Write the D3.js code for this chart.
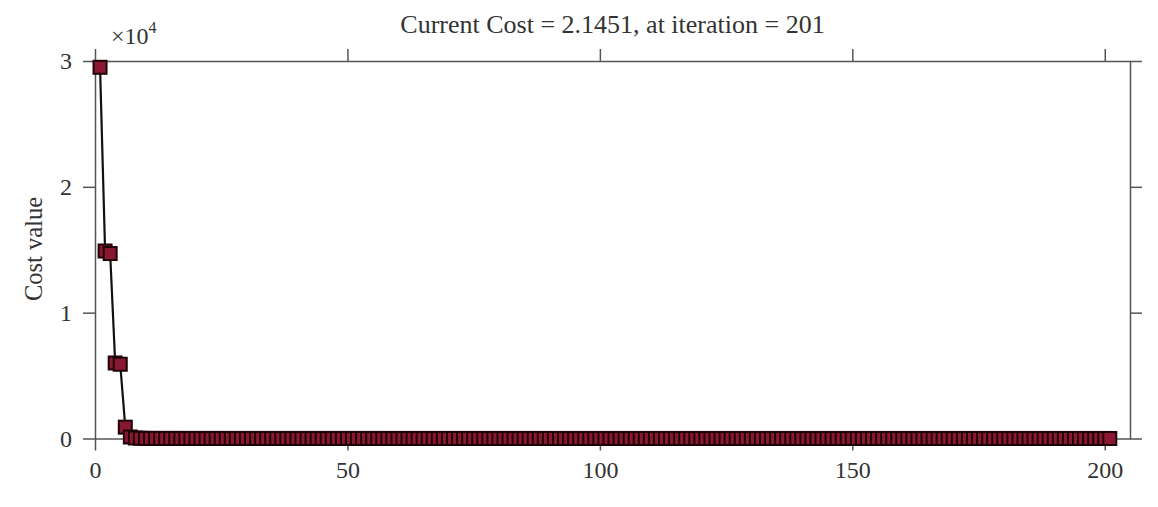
<!DOCTYPE html>
<html>
<head>
<meta charset="utf-8">
<script src="https://cdn.jsdelivr.net/npm/d3@7"></script>
<style>
  body { margin: 0; background: #fff; }
  svg { display: block; }
  .axis path, .axis line { stroke: #555; stroke-width: 1.5; }
  .axis text { fill: #333; font-family: "Liberation Serif", serif; font-size: 24px; }
  .lbl { fill: #333; font-family: "Liberation Serif", serif; }
</style>
</head>
<body>
<svg id="chart" width="1158" height="507"></svg>
<script>
// cost value per iteration (iteration = index + 1)
var cost = [
  29500, 14900, 14700, 6000, 5900, 900, 120, 40, 18, 9.6,
  7.4, 6.1, 5.3, 4.9, 4.6, 4.4, 4.2, 4.05, 3.93, 3.82,
  3.74, 3.66, 3.6, 3.54, 3.49, 3.44, 3.4, 3.36, 3.32, 3.29,
  3.26, 3.23, 3.2, 3.17, 3.15, 3.12, 3.1, 3.08, 3.06, 3.04,
  3.02, 3.0, 2.98, 2.97, 2.95, 2.93, 2.92, 2.9, 2.89, 2.87,
  2.86, 2.85, 2.83, 2.82, 2.81, 2.8, 2.78, 2.77, 2.76, 2.75,
  2.74, 2.73, 2.72, 2.71, 2.7, 2.69, 2.68, 2.67, 2.66, 2.65,
  2.64, 2.63, 2.62, 2.61, 2.6, 2.59, 2.58, 2.57, 2.57, 2.56,
  2.55, 2.54, 2.53, 2.52, 2.52, 2.51, 2.5, 2.49, 2.49, 2.48,
  2.47, 2.46, 2.46, 2.45, 2.44, 2.44, 2.43, 2.42, 2.42, 2.41,
  2.4, 2.4, 2.39, 2.39, 2.38, 2.37, 2.37, 2.36, 2.36, 2.35,
  2.35, 2.34, 2.34, 2.33, 2.33, 2.32, 2.32, 2.31, 2.31, 2.3,
  2.3, 2.29, 2.29, 2.28, 2.28, 2.28, 2.27, 2.27, 2.26, 2.26,
  2.26, 2.25, 2.25, 2.24, 2.24, 2.24, 2.23, 2.23, 2.23, 2.22,
  2.22, 2.22, 2.21, 2.21, 2.21, 2.2, 2.2, 2.2, 2.2, 2.19,
  2.19, 2.19, 2.18, 2.18, 2.18, 2.18, 2.17, 2.17, 2.17, 2.17,
  2.17, 2.16, 2.16, 2.16, 2.16, 2.16, 2.16, 2.15, 2.15, 2.15,
  2.15, 2.15, 2.15, 2.15, 2.15, 2.15, 2.15, 2.15, 2.15, 2.15,
  2.1451, 2.1451, 2.1451, 2.1451, 2.1451, 2.1451, 2.1451, 2.1451, 2.1451, 2.1451,
  2.1451, 2.1451, 2.1451, 2.1451, 2.1451, 2.1451, 2.1451, 2.1451, 2.1451, 2.1451,
  2.1451
];
var xTicks = [0, 50, 100, 150, 200];
var yTicks = [0, 10000, 20000, 30000];
var xDomain = [0, 205];
var yDomain = [0, 30000];
var titleText = "Current Cost = 2.1451, at iteration = 201";
var yLabel = "Cost value";

(function(){
    var svg = d3.select("#chart");
    // plot box (window.top is reserved, so no plain "top")
    var box = {left: 95, right: 1130, top: 61, bottom: 438.5};

    var x = d3.scaleLinear().domain(xDomain).range([box.left, box.right]);
    var y = d3.scaleLinear().domain(yDomain).range([box.bottom, box.top]);

    var points = cost.map(function(c, i){ return {it: i + 1, c: c}; });

    // axes, ticks outward like the original
    svg.append("g").attr("class", "axis")
        .attr("transform", "translate(0," + box.bottom + ")")
        .call(d3.axisBottom(x).tickValues(xTicks).tickSizeInner(12).tickSizeOuter(0).tickPadding(10));
    svg.append("g").attr("class", "axis")
        .attr("transform", "translate(0," + box.top + ")")
        .call(d3.axisTop(x).tickValues(xTicks).tickSizeInner(12).tickSizeOuter(0).tickFormat(""));
    svg.append("g").attr("class", "axis")
        .attr("transform", "translate(" + box.left + ",0)")
        .call(d3.axisLeft(y).tickValues(yTicks).tickSizeInner(12).tickSizeOuter(0).tickPadding(11)
            .tickFormat(function(d){ return d / 10000; }));
    svg.append("g").attr("class", "axis")
        .attr("transform", "translate(" + box.right + ",0)")
        .call(d3.axisRight(y).tickValues(yTicks).tickSizeInner(12).tickSizeOuter(0).tickFormat(""));

    // line + square markers
    var line = d3.line()
        .x(function(d){ return x(d.it); })
        .y(function(d){ return y(d.c); });

    svg.append("path")
        .datum(points)
        .attr("fill", "none")
        .attr("stroke", "#111")
        .attr("stroke-width", 2.2)
        .attr("d", line);

    var ms = 13;
    svg.append("g").selectAll("rect")
        .data(points)
        .join("rect")
        .attr("x", function(d){ return x(d.it) - ms / 2; })
        .attr("y", function(d){ return y(d.c) - ms / 2; })
        .attr("width", ms)
        .attr("height", ms)
        .attr("fill", "#8a1832")
        .attr("stroke", "#1e0407")
        .attr("stroke-width", 2);

    // texts
    svg.append("text").attr("class", "lbl")
        .attr("x", (box.left + box.right) / 2)
        .attr("y", 33)
        .attr("text-anchor", "middle")
        .attr("font-size", 26)
        .text(titleText);

    svg.append("text").attr("class", "lbl")
        .attr("transform", "translate(42,249) rotate(-90)")
        .attr("text-anchor", "middle")
        .attr("font-size", 24.5)
        .text(yLabel);

    var mult = svg.append("text").attr("class", "lbl")
        .attr("x", 111)
        .attr("y", 44)
        .attr("font-size", 24);
    mult.append("tspan").text("\u00d710");
    mult.append("tspan").attr("font-size", 16).attr("dy", -11).text("4");
})();
</script>
</body>
</html>
